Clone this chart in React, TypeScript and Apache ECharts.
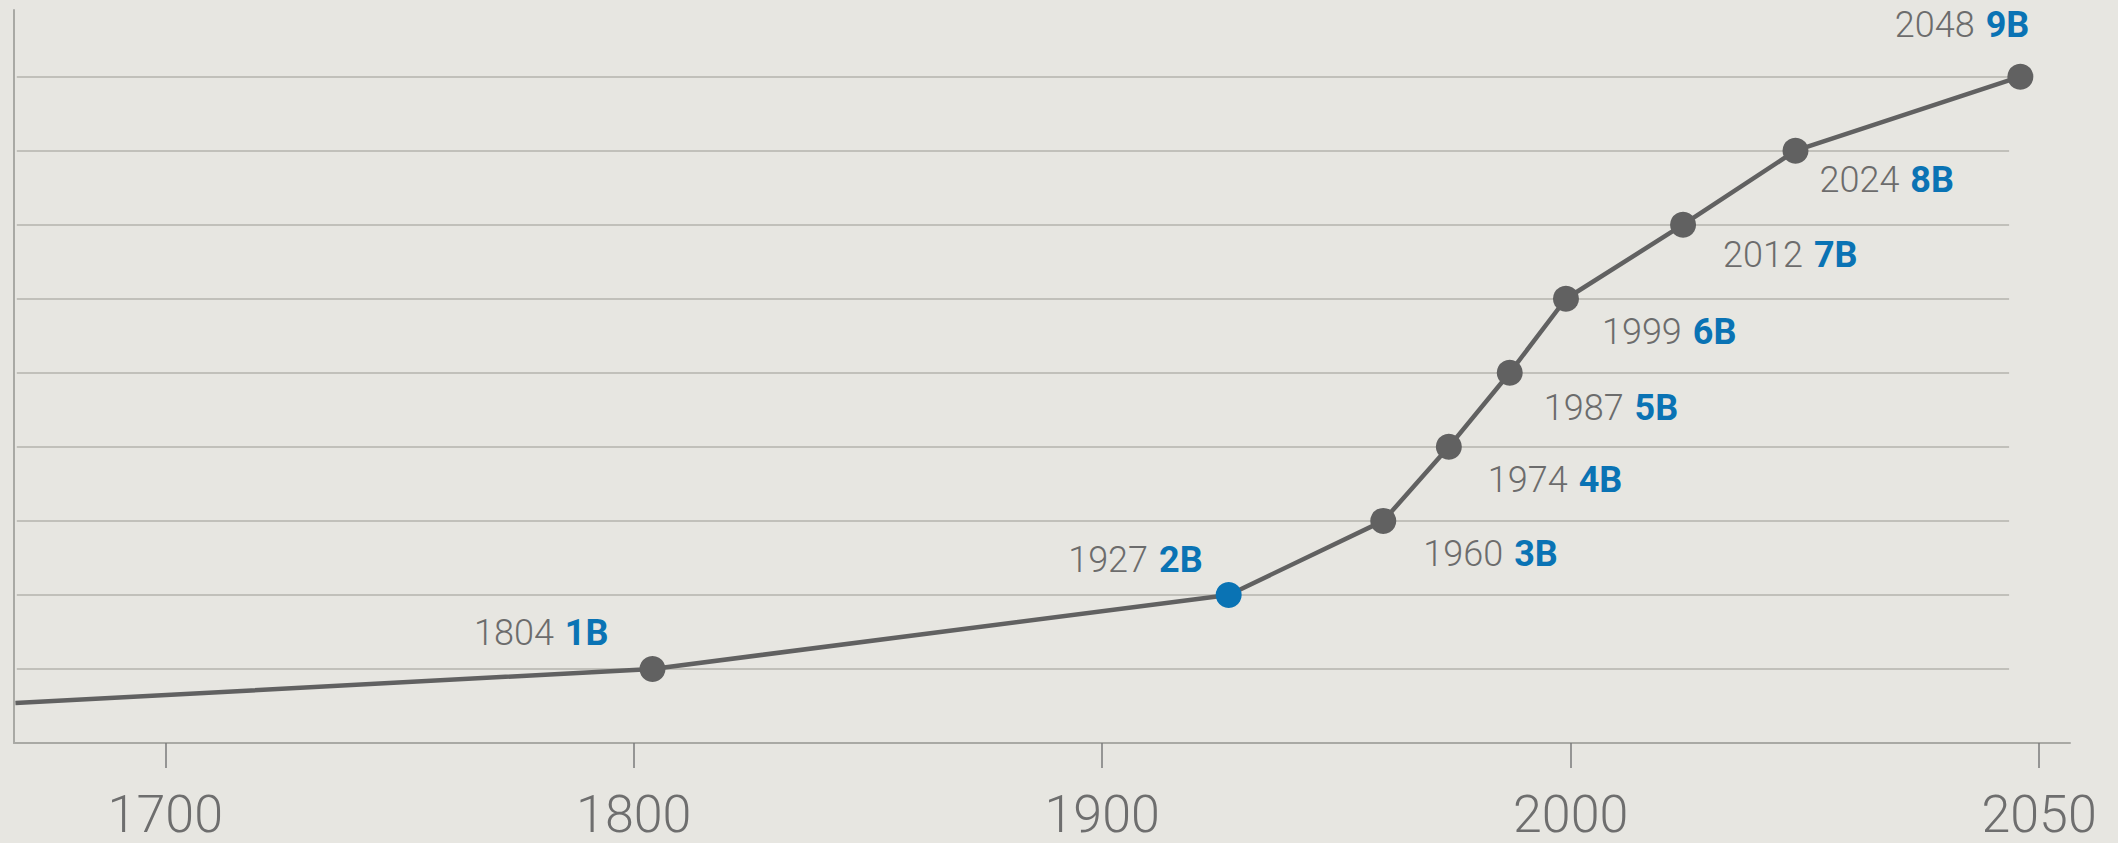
import React, { useEffect, useRef } from "react";
import * as echarts from "echarts";

// ---- data ----
const TICK_YEARS = [1700, 1800, 1900, 2000, 2050];
const YEARS = [1668, 1804, 1927, 1960, 1974, 1987, 1999, 2012, 2024, 2048];
const POPULATION_B = [0.54, 1, 2, 3, 4, 5, 6, 7, 8, 9];
const GRIDLINE_VALUES = [1, 2, 3, 4, 5, 6, 7, 8, 9];
const HIGHLIGHT_YEAR = 1927;
const AXIS_START_YEAR = 1667.7;
const AXIS_END_YEAR = 2053.3;
const GRID_END_YEAR = 2046.8;

// piecewise year scale: each tick interval occupies equal width
function yearToPos(y: number): number {
  const t = TICK_YEARS;
  if (y <= t[0]) return (y - t[0]) / (t[1] - t[0]);
  for (let i = 0; i < t.length - 1; i++) {
    if (y <= t[i + 1]) return i + (y - t[i]) / (t[i + 1] - t[i]);
  }
  const n = t.length - 1;
  return n + (y - t[n]) / (t[n] - t[n - 1]);
}

// label placement relative to symbol box (26x26)
const LABEL_POS: Record<number, { pos: number[]; align: string }> = {
  1804: { pos: [-31, -23], align: "right" },
  1927: { pos: [-13, -22], align: "right" },
  1960: { pos: [53, 46], align: "left" },
  1974: { pos: [52, 46], align: "left" },
  1987: { pos: [47, 48], align: "left" },
  1999: { pos: [49, 46], align: "left" },
  2012: { pos: [53, 43], align: "left" },
  2024: { pos: [37, 42], align: "left" },
  2048: { pos: [22, -39], align: "right" },
};

const BG = "#e7e6e1";
const LINE = "#616161";
const BLUE = "#0a73b4";
const TEXT_GRAY = "#6c6c6c";
const AXIS_GRAY = "#a9a9a4";
const GRID_GRAY = "#b4b3ad";

export default function App() {
  const ref = useRef<HTMLDivElement>(null);
  useEffect(() => {
    document.body.style.margin = "0";
    document.body.style.overflow = "hidden";
    const chart = echarts.init(ref.current!, null, { renderer: "svg" });
    const xMin = yearToPos(AXIS_START_YEAR);
    const data = YEARS.map((y, i) => {
      const item: any = { value: [yearToPos(y), POPULATION_B[i]] };
      if (i === 0) {
        item.symbol = "none";
        item.label = { show: false };
      } else {
        const lp = LABEL_POS[y];
        item.label = {
          show: true,
          position: lp.pos,
          align: lp.align,
          verticalAlign: "middle",
          formatter: `{y|${y}}{v|${POPULATION_B[i]}B}`,
        };
        if (y === HIGHLIGHT_YEAR) item.itemStyle = { color: BLUE };
      }
      return item;
    });
    const gridLines = GRIDLINE_VALUES.map((v) => [
      { coord: [xMin + 0.006, v] },
      { coord: [yearToPos(GRID_END_YEAR), v] },
    ]);
    chart.setOption({
      animation: false,
      backgroundColor: BG,
      grid: [{ left: 14, right: 48, top: 10, bottom: 100 }],
      xAxis: [
        {
          type: "value",
          min: xMin,
          max: yearToPos(AXIS_END_YEAR),
          axisLine: { show: true, onZero: false, lineStyle: { color: AXIS_GRAY, width: 2 } },
          axisTick: {
            show: true,
            customValues: TICK_YEARS.map(yearToPos),
            length: 25,
            lineStyle: { color: "#7a7a7a", width: 1.5 },
          },
          axisLabel: {
            show: true,
            customValues: TICK_YEARS.map(yearToPos),
            formatter: (v: number) => String(TICK_YEARS[Math.round(v)]),
            margin: 48,
            lineHeight: 46,
            fontFamily: "Roboto",
            fontWeight: 300,
            fontSize: 52,
            color: "#6e6e6e",
          },
          splitLine: { show: false },
        },
      ],
      yAxis: [
        {
          type: "value",
          min: 0,
          max: 9.9,
          axisLine: { show: true, onZero: false, lineStyle: { color: AXIS_GRAY, width: 2 } },
          axisTick: { show: false },
          axisLabel: { show: false },
          splitLine: { show: false },
        },
      ],
      series: [
        {
          type: "line",
          data,
          symbol: "circle",
          symbolSize: 26,
          lineStyle: { color: LINE, width: 4.5 },
          itemStyle: { color: LINE },
          label: {
            show: true,
            rich: {
              y: {
                fontFamily: "Roboto",
                fontWeight: 300,
                fontSize: 36,
                color: TEXT_GRAY,
              },
              v: {
                fontFamily: "Roboto",
                fontWeight: 700,
                fontSize: 36,
                color: BLUE,
                padding: [0, 0, 0, 11],
              },
            },
          },
          markLine: {
            silent: true,
            symbol: "none",
            label: { show: false },
            lineStyle: { color: GRID_GRAY, width: 1.6, type: "solid" },
            emphasis: { disabled: true },
            z: 1,
            data: gridLines,
          },
          emphasis: { disabled: true },
          clip: false,
        },
      ],
    });
    return () => chart.dispose();
  }, []);
  return <div ref={ref} style={{ width: 2118, height: 843 }} />;
}
